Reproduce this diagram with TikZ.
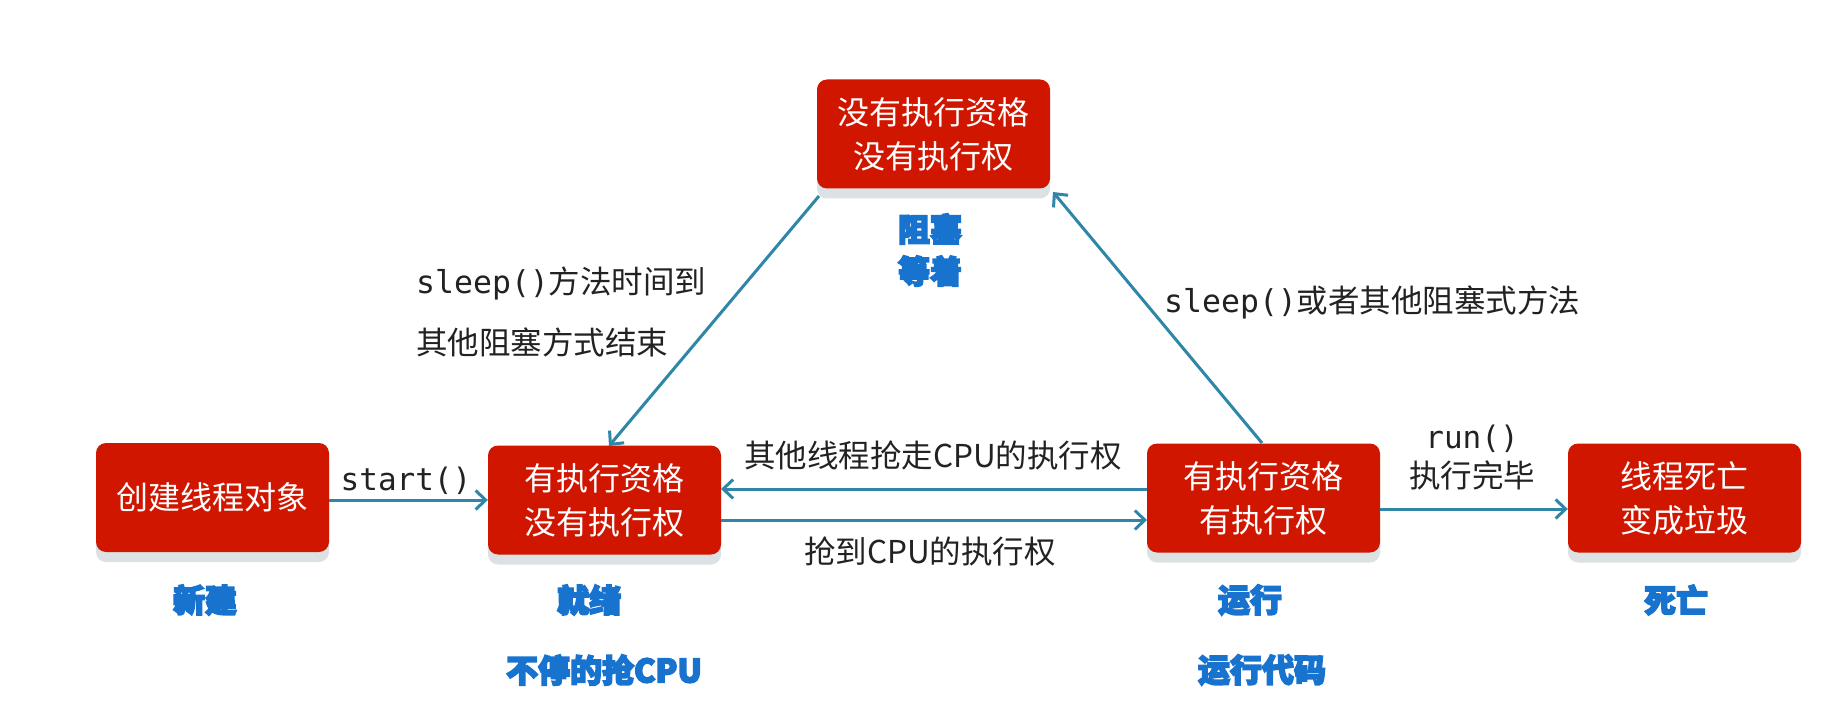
\documentclass[tikz,border=0pt]{standalone}
\usepackage{fontspec}
\setmainfont{Noto Sans CJK SC}
\newfontfamily\cjk{Noto Sans CJK SC}
\newfontfamily\mono{DejaVu Sans Mono}
\usetikzlibrary{arrows.meta,shadows}
\definecolor{boxred}{HTML}{D11600}
\definecolor{lblue}{HTML}{1873CF}
\definecolor{arrowc}{HTML}{2F86A8}
\definecolor{txt}{HTML}{222222}
\definecolor{shad}{HTML}{DCE1E3}
\newcommand{\heavytext}[1]{\special{pdf:literal direct 2 Tr 1.6 w}#1\special{pdf:literal direct 0 Tr}}
\tikzset{
  statebox/.style={rectangle, rounded corners=10pt, fill=boxred, text=white,
    minimum width=233pt, minimum height=109pt, align=center, inner sep=0pt,
    font=\cjk\fontsize{32}{44}\selectfont,
    drop shadow={shadow xshift=0pt, shadow yshift=-10pt, fill=shad, opacity=1}},
  lbl/.style={text=txt, inner sep=0pt, font=\cjk\fontsize{31.5}{36}\selectfont},
  monolbl/.style={text=txt, inner sep=0pt, font=\mono\fontsize{31}{36}\selectfont},
  bluelbl/.style={text=lblue, draw=none, inner sep=0pt, font=\cjk\bfseries\fontsize{32}{36}\selectfont},
  conn/.style={draw=arrowc, line width=3pt, -{Straight Barb[length=10pt,width=19pt,line width=3pt]}},
}
\begin{document}
\begin{tikzpicture}[x=1pt,y=-1pt]
\useasboundingbox[fill=white] (0,0) rectangle (1829,722);
% boxes
\node[statebox] (block) at (933.5,134) {没有执行资格\\没有执行权};
\node[statebox] (new) at (212.5,497.5) {创建线程对象};
\node[statebox] (ready) at (604.5,500) {有执行资格\\没有执行权};
\node[statebox] (run) at (1263.5,498) {有执行资格\\有执行权};
\node[statebox] (dead) at (1684.5,498) {线程死亡\\变成垃圾};
% named points for connectors
\coordinate (rdIn) at (721,489);
\coordinate (rdOut) at (721,520);
\coordinate (rnOut) at (1147,489);
\coordinate (rnIn) at (1147,520);
\coordinate (blkL) at (819,196);
\coordinate (blkR) at (1053,192);
\coordinate (rdTop) at (609,446);
\coordinate (rnTop) at (1262,443);
% connectors
\draw[conn] (new.east |- 0,500) -- (ready.west |- 0,500);
\draw[conn] (rnOut) -- (rdIn);
\draw[conn] (rdOut) -- (rnIn);
\draw[conn] (run.east |- 0,509) -- (dead.west |- 0,509);
\draw[conn] (blkL) -- (rdTop);
\draw[conn] (rnTop) -- (blkR);
% labels
\node[monolbl] (lstart) at (406,481) {start()};
\node[lbl] (lsteal) at (933,455) {其他线程抢走CPU的执行权};
\node[lbl] (lget) at (930,551) {抢到CPU的执行权};
\node[monolbl] (lrun) at (1472,439) {run()};
\node[lbl] (ldone) at (1472,475) {执行完毕};
\node[lbl, anchor=west] (lsl1) at (416,283) {{\mono sleep()}方法时间到};
\node[lbl, anchor=west] (lsl2) at (416,342) {其他阻塞方式结束};
\node[lbl, anchor=west] (lsl3) at (1164,302) {{\mono sleep()}或者其他阻塞式方法};
% blue state names
\begin{scope}[lblue]
\node[bluelbl] (bz1) at (930,229) {\heavytext{阻塞}};
\node[bluelbl] (bz2) at (930,271) {\heavytext{等着}};
\node[bluelbl] (sn) at (205,600) {\heavytext{新建}};
\node[bluelbl] (sr) at (589,600) {\heavytext{就绪}};
\node[bluelbl] (su) at (1250,600) {\heavytext{运行}};
\node[bluelbl] (sd) at (1676,600) {\heavytext{死亡}};
\node[bluelbl] (sr2) at (604,670) {\heavytext{不停的抢CPU}};
\node[bluelbl] (su2) at (1262,670) {\heavytext{运行代码}};
\end{scope}
\end{tikzpicture}
\end{document}
